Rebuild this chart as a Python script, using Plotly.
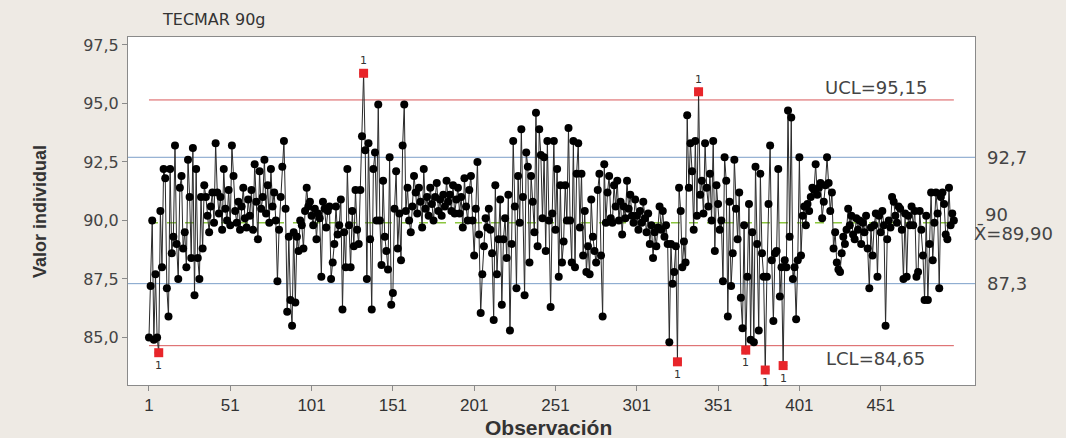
import plotly.graph_objects as go

# ---------------- data ----------------
values = [
    # obs 1-62
    85.0, 87.2, 90.0, 84.9, 87.7, 85.0, 84.35, 90.4, 88.0, 92.2, 91.8, 87.1, 85.9, 92.2, 88.6, 89.3,
    93.2, 89.0, 87.5, 91.4, 91.9, 88.8, 89.5, 88.0, 92.6, 91.0, 88.4, 93.1, 86.8, 92.2, 88.4, 87.5,
    91.0, 88.8, 91.5, 91.0, 90.2, 89.5, 90.6, 91.2, 89.9, 93.3, 91.2, 90.3, 91.0, 89.6, 92.2, 90.5,
    90.0, 91.3, 89.8, 93.2, 91.9, 90.4, 89.9, 90.8, 89.6, 90.6, 91.4, 90.1, 89.7, 90.9,
    # obs 63-124
    90.2, 91.3, 89.6, 92.4, 90.8, 89.2, 92.1, 90.5, 91.0, 92.6, 90.3, 91.5, 89.9, 92.2, 90.6, 91.2,
    90.0, 87.4, 89.6, 91.0, 92.3, 93.4, 90.5, 86.1, 89.3, 86.6, 85.5, 89.5, 86.5, 89.3, 88.7, 90.0,
    89.8, 88.8, 90.4, 91.4, 90.6, 90.8, 90.2, 89.8, 90.5, 89.2, 90.3, 90.1, 87.6, 90.8, 90.5, 89.7,
    90.4, 90.6, 87.5, 88.2, 89.0, 90.6, 89.4, 89.8, 90.9, 86.2, 89.5, 88.0, 92.2, 89.8,
    # obs 125-190
    88.0, 90.4, 88.9, 91.3, 89.6, 89.0, 91.3, 93.6, 96.29, 93.0, 87.5, 93.3, 89.2, 86.2, 92.2, 92.9,
    90.0, 94.96, 90.0, 88.1, 91.7, 89.3, 88.7, 87.9, 92.7, 86.4, 86.9, 90.5, 92.1, 88.8, 90.3, 88.3,
    93.2, 94.96, 90.4, 91.4, 90.0, 89.5, 90.6, 91.9, 91.2, 90.3, 91.4, 90.8, 89.7, 92.2, 90.5, 91.0,
    90.2, 91.4, 90.7, 90.0, 91.0, 91.6, 90.4, 90.9, 90.2, 91.1, 90.6, 91.7, 90.8, 91.1, 90.4, 91.5,
    90.3, 90.9,
    # obs 191-253
    91.4, 90.3, 91.0, 89.7, 91.8, 90.6, 90.0, 91.3, 91.9, 90.0, 88.5, 90.5, 92.5, 89.4, 86.05, 87.7,
    88.9, 90.1, 89.7, 90.5, 89.6, 88.6, 85.75, 91.5, 87.7, 89.2, 90.9, 86.4, 89.2, 90.1, 88.4, 91.1,
    85.3, 89.0, 93.4, 90.6, 87.1, 91.9, 89.9, 93.9, 91.0, 86.8, 92.9, 92.3, 88.2, 91.9, 90.8, 89.5,
    94.6, 88.9, 93.9, 92.8, 90.1, 92.7, 88.7, 93.4, 90.0, 86.3, 90.3, 93.4, 89.6, 92.2, 87.6,
    # obs 254-320
    91.5, 88.2, 89.1, 91.5, 90.0, 93.95, 90.0, 88.2, 93.4, 88.0, 92.0, 93.3, 89.7, 92.0, 88.5, 90.4,
    87.8, 88.9, 87.7, 90.9, 89.3, 88.7, 88.2, 91.3, 92.0, 88.5, 85.9, 92.4, 89.9, 91.2, 91.9, 90.1,
    89.9, 91.5, 90.6, 91.7, 90.0, 90.8, 89.4, 90.6, 90.1, 91.7, 90.5, 91.1, 90.2, 89.9, 90.9, 90.2,
    89.6, 90.4, 89.9, 90.8, 90.1, 89.5, 90.3, 89.0, 89.8, 88.4, 89.5, 88.9, 89.7, 90.6, 89.6, 90.4,
    89.3, 89.8, 89.0,
    # obs 321-385
    84.8, 89.0, 87.3, 87.8, 88.9, 83.96, 91.4, 90.4, 88.0, 89.1, 88.2, 94.5, 91.4, 93.3, 92.1, 89.6,
    93.4, 90.2, 95.5, 91.1, 91.7, 90.3, 93.3, 91.4, 90.6, 92.0, 90.0, 93.4, 88.7, 91.5, 90.7, 89.6,
    90.0, 87.4, 92.7, 91.7, 85.9, 90.8, 87.2, 88.6, 92.6, 90.5, 89.2, 91.2, 86.7, 85.4, 89.8, 84.46,
    87.6, 90.7, 84.9, 89.5, 84.8, 92.3, 89.0, 85.3, 92.0, 88.6, 87.6, 83.61, 87.6, 90.7, 93.2, 88.3,
    85.7,
    # obs 386-450
    88.6, 88.7, 92.2, 86.75, 88.0, 83.8, 88.3, 88.0, 94.7, 89.3, 94.4, 87.5, 88.0, 85.78, 88.3, 92.7,
    88.5, 90.2, 90.6, 89.8, 90.7, 90.4, 91.0, 91.4, 91.3, 92.4, 91.1, 91.4, 91.6, 90.1, 90.8, 91.5,
    92.7, 91.6, 90.4, 91.2, 88.8, 89.5, 88.2, 87.9, 87.8, 88.6, 89.3, 89.0, 89.6, 90.5, 89.8, 90.2,
    89.4, 89.2, 90.1, 89.6, 90.0, 89.0, 89.9, 89.5, 90.2, 88.8, 87.1, 89.7, 88.5, 89.8, 90.3, 87.6,
    90.2,
    # obs 451-496
    89.5, 90.4, 89.8, 85.5, 89.2, 90.0, 89.7, 91.0, 90.8, 90.2, 89.9, 90.6, 90.5, 89.6, 87.5, 90.3,
    87.6, 90.2, 89.8, 90.6, 89.8, 90.4, 87.6, 87.8, 90.4, 89.6, 88.5, 86.6, 90.2, 86.6, 89.0, 91.2,
    88.3, 89.9, 91.2, 90.3, 87.1, 91.0, 91.2, 90.7, 89.4, 89.2, 91.4, 89.8, 90.3, 90.0,
]
observations = list(range(1, len(values) + 1))

ucl = 95.15
lcl = 84.65
center = 89.90
zone_upper = 92.7
zone_lower = 87.3

x_tick_vals = [1, 51, 101, 151, 201, 251, 301, 351, 401, 451]
y_tick_vals = [85.0, 87.5, 90.0, 92.5, 95.0, 97.5]
y_tick_text = ["85,0", "87,5", "90,0", "92,5", "95,0", "97,5"]

# ---------------- figure ----------------
out_x = [o for o, v in zip(observations, values) if v > ucl or v < lcl]
out_y = [v for v in values if v > ucl or v < lcl]

fig = go.Figure()
fig.add_trace(go.Scatter(
    x=observations, y=values, mode="lines+markers",
    line=dict(color="#2a2a2a", width=1),
    marker=dict(color="#000000", size=8, symbol="circle"),
    showlegend=False, hoverinfo="x+y",
))
fig.add_trace(go.Scatter(
    x=out_x, y=out_y, mode="markers",
    marker=dict(color="#e8252a", size=9, symbol="square"),
    showlegend=False,
))

first, last = observations[0], observations[-1]
shapes = [
    dict(type="line", xref="x", yref="y", x0=first, x1=last, y0=ucl, y1=ucl,
         line=dict(color="#d9585a", width=1), layer="below"),
    dict(type="line", xref="x", yref="y", x0=first, x1=last, y0=lcl, y1=lcl,
         line=dict(color="#d9585a", width=1), layer="below"),
    dict(type="line", xref="x domain", yref="y", x0=0, x1=1, y0=zone_upper, y1=zone_upper,
         line=dict(color="#7c9fc9", width=1), layer="below"),
    dict(type="line", xref="x domain", yref="y", x0=0, x1=1, y0=zone_lower, y1=zone_lower,
         line=dict(color="#7c9fc9", width=1), layer="below"),
    dict(type="line", xref="x", yref="y", x0=first, x1=last, y0=center, y1=center,
         line=dict(color="#8cc63f", width=1.5, dash="dash"), layer="below"),
]

label_font = dict(family="DejaVu Sans, Verdana, sans-serif", size=18, color="#444444")
annotations = [
    dict(text="TECMAR 90g", xref="paper", yref="paper", x=0.038, y=1.05, xanchor="left",
         yanchor="middle", showarrow=False,
         font=dict(family="DejaVu Sans, Verdana, sans-serif", size=16, color="#333333")),
    dict(text="UCL=95,15", xref="x", yref="y", x=448, y=ucl, xanchor="center", yanchor="bottom",
         yshift=0, showarrow=False, font=label_font),
    dict(text="LCL=84,65", xref="x", yref="y", x=448, y=lcl, xanchor="center", yanchor="top",
         yshift=0, showarrow=False, font=label_font),
    dict(text="92,7", xref="paper", yref="y", x=1.012, y=zone_upper, xanchor="left",
         yanchor="middle", showarrow=False, font=label_font),
    dict(text="87,3", xref="paper", yref="y", x=1.012, y=zone_lower, xanchor="left",
         yanchor="middle", showarrow=False, font=label_font),
    dict(text="90", xref="paper", yref="y", x=1.010, y=90.25, xanchor="left",
         yanchor="middle", showarrow=False, font=label_font),
    dict(text="X\u0304=89,90", xref="paper", yref="y", x=0.9965, y=89.45, xanchor="left",
         yanchor="middle", showarrow=False, font=label_font),
    dict(text="<b>Valor individual</b>", xref="paper", yref="paper", x=-0.104, y=0.5,
         textangle=-90, xanchor="center", yanchor="middle", showarrow=False,
         font=dict(family="Liberation Sans Narrow, Arial Narrow, Liberation Sans", size=18,
                   color="#333333")),
    dict(text="<b>Observación</b>", xref="paper", yref="paper", x=0.497, y=-0.121,
         xanchor="center", yanchor="middle", showarrow=False,
         font=dict(family="Liberation Sans Narrow, Arial Narrow, Liberation Sans", size=21,
                   color="#333333")),
]
for ox, oy in zip(out_x, out_y):
    above = oy > ucl
    annotations.append(dict(
        text="1", xref="x", yref="y", x=ox, y=oy, showarrow=False,
        yanchor="bottom" if above else "top", yshift=4 if above else -4,
        font=dict(family="DejaVu Sans, sans-serif", size=11, color="#333333"),
    ))

fig.update_layout(
    width=1066, height=438,
    margin=dict(l=128, r=91, t=37, b=53),
    paper_bgcolor="#eeeae4", plot_bgcolor="#ffffff",
    shapes=shapes, annotations=annotations,
    xaxis=dict(range=[-11.9, 509], tickvals=x_tick_vals, ticktext=[str(v) for v in x_tick_vals],
               showgrid=False, zeroline=False, showline=True, mirror=True,
               linecolor="#8a8a8a", linewidth=1, ticks="outside", ticklen=5, tickcolor="#8a8a8a",
               tickfont=dict(family="Liberation Sans Narrow, Arial Narrow, Liberation Sans",
                             size=17, color="#333333")),
    yaxis=dict(range=[82.97, 97.84], tickvals=y_tick_vals, ticktext=y_tick_text,
               showgrid=False, zeroline=False, showline=True, mirror=True,
               linecolor="#8a8a8a", linewidth=1, ticks="outside", ticklen=5, tickcolor="#8a8a8a",
               tickfont=dict(family="DejaVu Sans, Verdana, sans-serif", size=16, color="#444444")),
)

fig.write_html("out.html", config={"displayModeBar": False},
               post_script="document.body.style.margin='0px';document.body.style.background='#eeeae4';")
